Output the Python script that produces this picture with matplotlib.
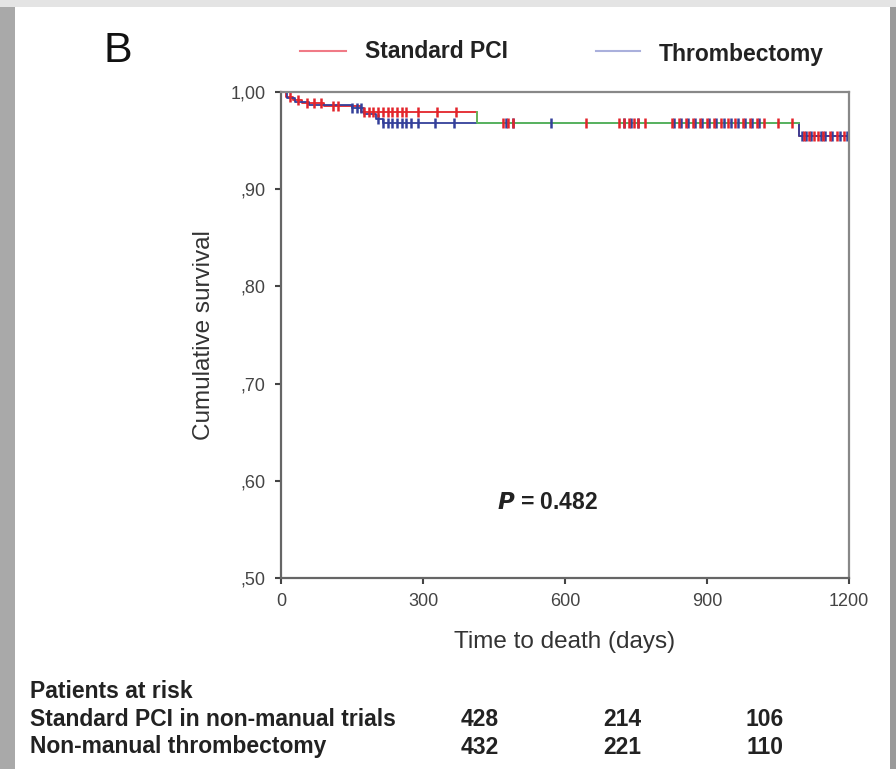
import numpy as np
import matplotlib
matplotlib.use("Agg")
import matplotlib.pyplot as plt
from matplotlib.patches import Rectangle
from matplotlib.lines import Line2D

plt.rcParams['font.family'] = ['Liberation Sans', 'DejaVu Sans']

# Kaplan-Meier steps (days, cumulative survival)
pci_t = [0, 10, 25, 45, 90, 170, 415, 1095]
pci_s = [1.0, 0.995, 0.992, 0.989, 0.986, 0.979, 0.968, 0.955]
thr_t = [0, 12, 30, 60, 150, 175, 200, 215, 1095]
thr_s = [1.0, 0.994, 0.990, 0.987, 0.984, 0.977, 0.972, 0.968, 0.955]
t_end = 1195

# censored observations (days)
pci_cens = [20, 35, 55, 70, 85, 110, 120, 175, 185, 195, 205, 215, 225, 235, 245,
            255, 265, 290, 330, 370, 470, 480, 490, 645, 715, 725, 735, 745, 755,
            770, 825, 840, 855, 870, 885, 900, 915, 930, 945, 960, 975, 990, 1005,
            1020, 1050, 1080, 1105, 1115, 1125, 1135, 1145, 1160, 1175, 1190]
thr_cens = [150, 160, 170, 205, 215, 225, 235, 245, 255, 265, 275, 290, 325, 365,
            475, 490, 570, 725, 740, 755, 830, 845, 860, 875, 890, 905, 920, 935,
            950, 965, 980, 995, 1010, 1100, 1110, 1120, 1140, 1150, 1165, 1180, 1195]

yticks = [0.5, 0.6, 0.7, 0.8, 0.9, 1.0]
ytick_labels = [",50", ",60", ",70", ",80", ",90", "1,00"]
xticks = [0, 300, 600, 900, 1200]

risk_rows = ["Standard PCI in non-manual trials", "Non-manual thrombectomy"]
risk_pci = [428, 214, 106]
risk_thr = [432, 221, 110]

red = "#e3242b"
blue = "#34409a"
green = "#5cbf5c"


def surv_at(times, surv, x):
    idx = np.searchsorted(times, x, side="right") - 1
    return np.array(surv)[idx]


fig = plt.figure(figsize=(8.96, 7.69), dpi=100)
fig.patch.set_facecolor("white")

# grey photo frame
fig.patches.append(Rectangle((0, 0), 15 / 896, 1, transform=fig.transFigure,
                             facecolor="#a9a9a9", edgecolor="none", zorder=0))
fig.patches.append(Rectangle((890 / 896, 0), 6 / 896, 1, transform=fig.transFigure,
                             facecolor="#9a9a9a", edgecolor="none", zorder=0))
fig.patches.append(Rectangle((0, 1 - 7 / 769), 1, 7 / 769, transform=fig.transFigure,
                             facecolor="#e4e4e4", edgecolor="none", zorder=0))

ax = fig.add_axes([281 / 896, 1 - 578 / 769, 568 / 896, 486 / 769])

ax.step(pci_t + [t_end], pci_s + [pci_s[-1]], where="post", color=red, lw=1.3)
ax.step(thr_t + [t_end], thr_s + [thr_s[-1]], where="post", color=blue, lw=1.3)
# overlapping segment drawn in green, as in the source
ax.plot([pci_t[6], pci_t[6], pci_t[7]], [pci_s[5], pci_s[6], pci_s[6]],
        color=green, lw=1.3)

ax.plot(thr_cens, surv_at(thr_t, thr_s, thr_cens), ls="none", marker="|",
        ms=7, mew=1.8, color=blue)
ax.plot(pci_cens, surv_at(pci_t, pci_s, pci_cens), ls="none", marker="|",
        ms=7, mew=1.8, color=red)

ax.set_xlim(0, 1200)
ax.set_ylim(0.5, 1.0)
ax.set_xticks(xticks)
ax.set_yticks(yticks)
ax.set_yticklabels(ytick_labels)
ax.tick_params(labelsize=13, colors="#444444", length=4, width=1.5, pad=7)
for sp in ax.spines.values():
    sp.set_color("#888888")
    sp.set_linewidth(1.6)
ax.spines["left"].set_color("#666666")
ax.spines["bottom"].set_color("#666666")

ax.set_xlabel("Time to death (days)", fontsize=17.5, color="#333333", labelpad=15)
ax.set_ylabel("Cumulative survival", fontsize=17.5, color="#333333", labelpad=11)

ax.text(0.47, 0.155, "$\\bfit{P}$ = 0.482", transform=ax.transAxes, ha="center",
        va="center", fontsize=16.5, fontweight="bold", color="#222222")

# panel letter and legend
fig.text(118 / 896, 1 - 51 / 769, "B", fontsize=31, ha="center", va="center",
         color="#111111")
fig.add_artist(Line2D([300 / 896, 346 / 896], [1 - 51 / 769] * 2,
                      transform=fig.transFigure, color="#f07a86", lw=1.5))
fig.text(365 / 896, 1 - 52 / 769, "Standard PCI", fontsize=16.5, fontweight="bold",
         va="center", color="#222222")
fig.add_artist(Line2D([596 / 896, 640 / 896], [1 - 51 / 769] * 2,
                      transform=fig.transFigure, color="#aab0dc", lw=1.5))
fig.text(659 / 896, 1 - 54 / 769, "Thrombectomy", fontsize=16.5, fontweight="bold",
         va="center", color="#222222")

# patients at risk table
fig.text(30 / 896, 1 - 691 / 769, "Patients at risk", fontsize=16.5,
         fontweight="bold", va="center", color="#222222")
row_y = [720, 747]
col_x = [480, 622, 765]
for name, vals, yy in zip(risk_rows, [risk_pci, risk_thr], row_y):
    fig.text(30 / 896, 1 - yy / 769, name, fontsize=16.5, fontweight="bold",
             va="center", color="#222222")
    for v, xx in zip(vals, col_x):
        fig.text(xx / 896, 1 - yy / 769, str(v), fontsize=16.5, fontweight="bold",
                 va="center", ha="center", color="#222222")

plt.savefig("out.png", dpi=100)
